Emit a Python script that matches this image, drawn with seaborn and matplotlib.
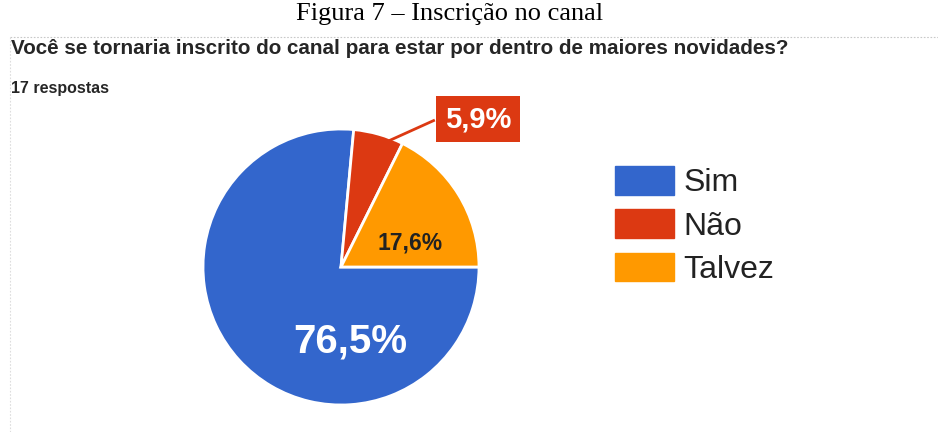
import matplotlib
matplotlib.use("Agg")
import matplotlib.pyplot as plt
import matplotlib.patches as mpatches
import numpy as np
import seaborn as sns

# ---- data ----
categories = ["Sim", "Não", "Talvez"]
counts = [13, 1, 3]
colors = ["#3366CC", "#DC3912", "#FF9900"]
title = "Figura 7 – Inscrição no canal"
question = "Você se tornaria inscrito do canal para estar por dentro de maiores novidades?"
responses = "17 respostas"

sns.set_theme(style="white")
plt.rcParams["font.family"] = ["Liberation Sans", "DejaVu Sans"]

W, H = 938, 432
fig = plt.figure(figsize=(W / 100, H / 100), dpi=100)
fig.patch.set_facecolor("white")

def fx(px):
    return px / W

def fy(py):
    return 1 - py / H

# title
fig.text(fx(450), fy(14), title, family=["Liberation Serif", "DejaVu Serif"],
         fontsize=19, ha="center", va="center", color="black")

# card border (dotted)
fig.add_artist(plt.Line2D([fx(10), 1], [fy(37), fy(37)], color="#c8c8c8",
                          lw=0.8, ls=(0, (1.5, 1.5))))
fig.add_artist(plt.Line2D([fx(10), fx(10)], [fy(37), 0], color="#dddddd",
                          lw=0.8, ls=(0, (1.5, 1.5))))

fig.text(fx(11), fy(48), question, fontsize=14.9, fontweight="bold",
         color="#262626", ha="left", va="center")
fig.text(fx(11), fy(88), responses, fontsize=11.5, fontweight="bold",
         color="#262626", ha="left", va="center")

# pie
cx, cy, r = 341, 267, 138
ax = fig.add_axes([fx(cx - r), fy(cy + r), 2 * r / W, 2 * r / H])
palette = sns.color_palette(colors)
wedges, _ = ax.pie(counts, colors=palette, startangle=0, counterclock=False,
                   wedgeprops=dict(edgecolor="white", linewidth=2))
ax.set_xlim(-1, 1)
ax.set_ylim(-1, 1)
ax.axis("off")

total = sum(counts)
pct = [f"{c / total * 100:.1f}".replace(".", ",") + "%" for c in counts]

# Sim label
ax.text(0.065, -0.543, pct[0], color="white", fontsize=29, fontweight="bold",
        ha="center", va="center")
# Talvez label
ax.text(0.5, 0.174, pct[2], color="#222222", fontsize=16.5, fontweight="bold",
        ha="center", va="center")
# Não label with leader line
w = wedges[1]
mid = np.deg2rad((w.theta1 + w.theta2) / 2 - 5)
sx, sy = 0.98 * np.cos(mid), 0.98 * np.sin(mid)
ax.plot([sx, 0.68], [sy, 1.065], color=colors[1], lw=2, clip_on=False,
        solid_capstyle="butt")
ax.text(0.993, 1.072, pct[1], color="white", fontsize=21, fontweight="bold",
        ha="center", va="center", clip_on=False,
        bbox=dict(boxstyle="square,pad=0.3", fc=colors[1], ec="none"))

# legend
handles = [mpatches.Patch(color=c, label=l) for c, l in zip(palette, categories)]
fig.legend(handles=handles, loc="upper left", bbox_to_anchor=(fx(615), fy(166)),
           frameon=False, fontsize=23, handlelength=1.85, handleheight=1.0,
           handletextpad=0.3, labelspacing=0.35, borderpad=0, borderaxespad=0,
           labelcolor="#222222")

fig.savefig("out.png", dpi=100, facecolor="white")
